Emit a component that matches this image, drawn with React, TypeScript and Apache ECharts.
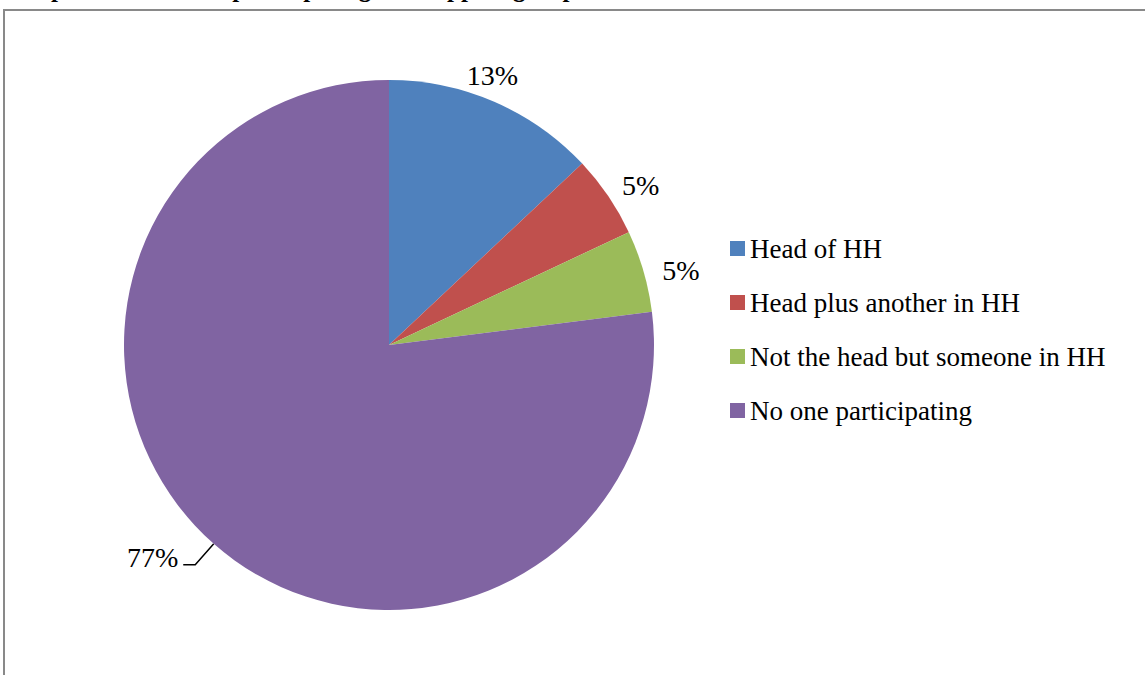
import React, { useEffect, useRef } from "react";
import * as echarts from "echarts";

const categories = [
  "Head of HH",
  "Head plus another in HH",
  "Not the head but someone in HH",
  "No one participating",
];
const values = [13, 5, 5, 77];
const colors = ["#4F81BD", "#C0504D", "#9BBB59", "#8064A2"];
const titleText = "Graph 5: Household participating in a support group";

// label leader settings per slice: [length, length2, showLine, lift label above line]
const labelLines: [number, number, boolean, boolean][] = [
  [29, -44, false, false],
  [18, -6, false, false],
  [3, 11, false, false],
  [28, 12, true, true],
];

export default function App() {
  const ref = useRef<HTMLDivElement>(null);
  useEffect(() => {
    if (!ref.current) return;
    const chart = echarts.init(ref.current, null, { renderer: "svg" });
    const font = "'Liberation Serif', 'DejaVu Serif', serif";
    chart.setOption({
      animation: false,
      backgroundColor: "#ffffff",
      color: colors,
      graphic: [
        {
          type: "rect",
          shape: { x: 4, y: 10, width: 1200, height: 700 },
          style: { fill: "none", stroke: "#898989", lineWidth: 2 },
          silent: true,
        },
        {
          type: "text",
          x: 8,
          y: 1,
          style: {
            text: titleText,
            font: `bold 25px ${font}`,
            fill: "#000",
            textAlign: "left",
            textVerticalAlign: "bottom",
          },
          silent: true,
        },
      ],
      legend: {
        orient: "vertical",
        left: 725,
        top: 230,
        itemWidth: 15,
        itemHeight: 15,
        itemGap: 27,
        icon: "rect",
        data: categories,
        textStyle: {
          fontFamily: font,
          fontSize: 27,
          lineHeight: 27,
          color: "#000",
        },
      },
      series: [
        {
          type: "pie",
          center: [389, 345],
          radius: 265,
          startAngle: 90,
          clockwise: true,
          avoidLabelOverlap: false,
          label: {
            show: true,
            position: "outside",
            formatter: "{d}%",
            fontFamily: font,
            fontSize: 28,
            color: "#000",
            distanceToLabelLine: 5,
            rich: {
              v: { fontFamily: font, fontSize: 28, color: "#000", lineHeight: 30 },
              s: { fontSize: 1, lineHeight: 14 },
            },
          },
          labelLine: {
            lineStyle: { color: "#000", width: 1.5 },
          },
          emphasis: { disabled: true },
          data: categories.map((name, i) => ({
            name,
            value: values[i],
            itemStyle: { color: colors[i] },
            label: labelLines[i][3] ? { formatter: "{v|{d}%}\n{s| }" } : {},
            labelLine: {
              show: labelLines[i][2],
              length: labelLines[i][0],
              length2: labelLines[i][1],
            },
          })),
        },
      ],
    });
    return () => chart.dispose();
  }, []);
  return (
    <div
      ref={ref}
      style={{ position: "fixed", left: 0, top: 0, width: 1145, height: 675 }}
    />
  );
}
